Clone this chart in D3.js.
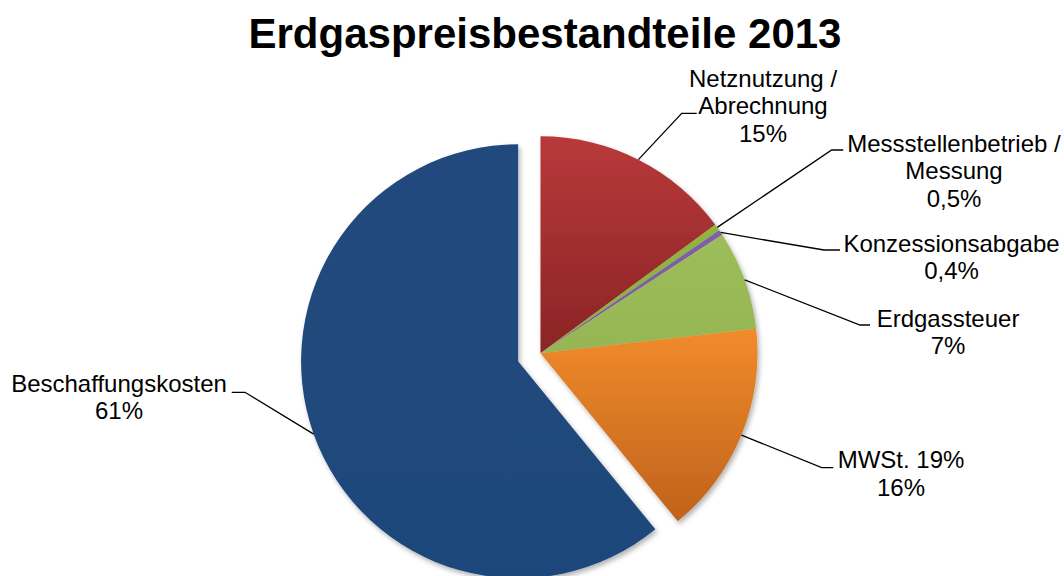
<!DOCTYPE html>
<html>
<head>
<meta charset="utf-8">
<script src="https://cdn.jsdelivr.net/npm/d3@7"></script>
<style>
  body { margin: 0; background: #fff; }
  text { font-family: "Liberation Sans", Arial, sans-serif; fill: #000; }
</style>
</head>
<body>
<svg width="1064" height="576"></svg>
<script>
// data
var categories = ["Netznutzung / Abrechnung", "Messstellenbetrieb / Messung", "Konzessionsabgabe", "Erdgassteuer", "MWSt. 19%", "Beschaffungskosten"];
var labelLines = [["Netznutzung /", "Abrechnung"], ["Messstellenbetrieb /", "Messung"], ["Konzessionsabgabe"], ["Erdgassteuer"], ["MWSt. 19%"], ["Beschaffungskosten"]];
var values = [14.9, 0.5, 0.4, 7.4, 15.9, 60.9];
var exploded = [0, 0, 0, 0, 0, 1];

// styles / layout
var topColors = ["#b9393a", "#8fb542", "#7e60a6", "#9dbd5b", "#f18b2b", "#214a7d"];
var bottomColors = ["#8a2425", "#8aaf3d", "#7a5ca0", "#96b654", "#bf621c", "#1f477a"];
var labelX = [763, 954, 951.5, 948, 901, 119];
var labelY = [87, 151.7, 251.7, 326.7, 468.3, 391.7];
var elbows = [[681.7, 696.7, 113.3], [831.7, 843.3, 150], [824, 840, 250], [860, 870, 325], [821.7, 833.3, 467.7], [245, 231.7, 392.3]];

var cx = 540.5, cy = 353.3, radius = 217, explode = 23.8, lineH = 27.4;

var svg = d3.select("svg");

svg.append("text")
   .attr("x", 545).attr("y", 48)
   .attr("text-anchor", "middle")
   .style("font-size", "42px").style("font-weight", "bold")
   .text("Erdgaspreisbestandteile 2013");

var defs = svg.append("defs");
var shadow = defs.append("filter").attr("id", "shadow")
   .attr("x", "-10%").attr("y", "-10%").attr("width", "130%").attr("height", "130%");
shadow.append("feDropShadow")
   .attr("dx", 2).attr("dy", 3).attr("stdDeviation", 2.5)
   .attr("flood-color", "#000").attr("flood-opacity", 0.3);

categories.forEach(function(c, i) {
   var g = defs.append("linearGradient").attr("id", "grad" + i)
      .attr("x1", 0).attr("y1", 0).attr("x2", 0).attr("y2", 1);
   g.append("stop").attr("offset", "0%").attr("stop-color", topColors[i]);
   g.append("stop").attr("offset", "100%").attr("stop-color", bottomColors[i]);
});

var total = d3.sum(values);
var pie = d3.pie().sort(null).value(d => d);
var arcs = pie(values);
var arc = d3.arc().innerRadius(0).outerRadius(radius);
var edgeArc = d3.arc().innerRadius(radius).outerRadius(radius);

function offset(d, i) {
   var mid = (d.startAngle + d.endAngle) / 2;
   var k = exploded[i] ? explode : 0;
   return [Math.sin(mid) * k, -Math.cos(mid) * k];
}

var pieG = svg.append("g")
   .attr("transform", "translate(" + cx + "," + cy + ")")
   .attr("filter", "url(#shadow)");

pieG.selectAll("path")
   .data(arcs).enter()
   .append("path")
   .attr("transform", (d, i) => "translate(" + offset(d, i) + ")")
   .attr("d", arc)
   .style("fill", (d, i) => "url(#grad" + i + ")");

// leader lines
svg.append("g").selectAll("polyline")
   .data(arcs).enter()
   .append("polyline")
   .attr("points", function(d, i) {
      var o = offset(d, i);
      var p = edgeArc.centroid(d);
      var e = elbows[i];
      return [[cx + p[0] + o[0], cy + p[1] + o[1]], [e[0], e[2]], [e[1], e[2]]].join(" ");
   })
   .style("fill", "none").style("stroke", "#000").style("stroke-width", 1.3);

var fmtSmall = d3.format(".1f"), fmtBig = d3.format(".0f");
function pctText(v) {
   var p = v / total * 100;
   return (p < 1 ? fmtSmall(p).replace(".", ",") : fmtBig(p)) + "%";
}

var labels = svg.append("g").selectAll("text")
   .data(categories).enter()
   .append("text")
   .attr("text-anchor", "middle")
   .style("font-size", "24px");

labels.each(function(c, i) {
   var t = d3.select(this);
   labelLines[i].concat([pctText(values[i])]).forEach(function(line, j) {
      t.append("tspan")
       .attr("x", labelX[i])
       .attr("y", labelY[i] + j * lineH)
       .text(line);
   });
});
</script>
</body>
</html>
